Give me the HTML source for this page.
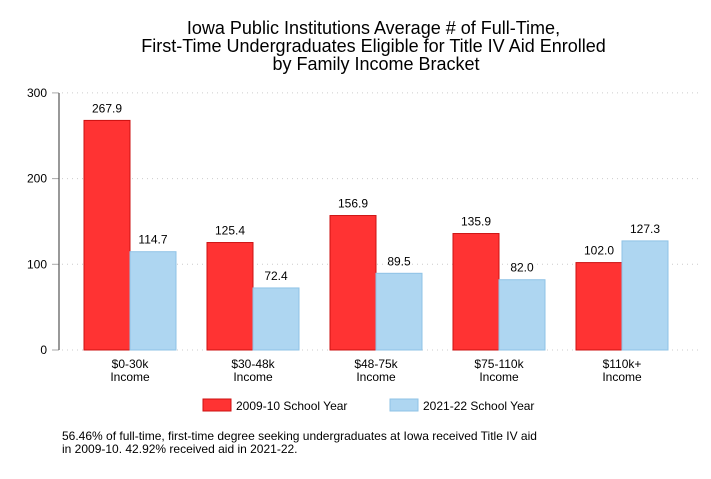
<!DOCTYPE html>
<html><head><meta charset="utf-8"><style>
body{margin:0;background:#fff;font-family:"Liberation Sans",Arial,sans-serif}
svg text{font-family:"Liberation Sans",Arial,sans-serif}
</style></head><body>
<svg id="chart" width="711" height="474" xmlns="http://www.w3.org/2000/svg">
<rect width="711" height="474" fill="#fff"/>
<text font-size="18" text-anchor="middle" fill="#000">
<tspan x="376" y="34">Iowa Public Institutions Average # of Full-Time,</tspan>
<tspan x="376" y="52">First-Time Undergraduates Eligible for Title IV Aid Enrolled</tspan>
<tspan x="376" y="70">by Family Income Bracket</tspan></text>
<g id="grid"></g><g id="bars"></g><g id="labels"></g>
<line x1="59" y1="93" x2="59" y2="350" stroke="#555" stroke-width="1.2"/>
<g>
<rect x="203" y="399" width="28" height="12" fill="#ff3333" stroke="#cc1111"/>
<text x="236" y="410" font-size="12">2009-10 School Year</text>
<rect x="390" y="399" width="28" height="12" fill="#aed6f1" stroke="#8fc3e6"/>
<text x="423" y="410" font-size="12">2021-22 School Year</text>
</g>
<text font-size="12" fill="#000">
<tspan x="62" y="440">56.46% of full-time, first-time degree seeking undergraduates at Iowa received Title IV aid</tspan>
<tspan x="62" y="453">in 2009-10. 42.92% received aid in 2021-22.</tspan></text>
</svg>
<script>
const categories=["$0-30k","$30-48k","$48-75k","$75-110k","$110k+"];
const series2009=[267.9,125.4,156.9,135.9,102.0];
const series2021=[114.7,72.4,89.5,82.0,127.3];
const yTicks=[0,100,200,300];
const NS="http://www.w3.org/2000/svg";
const y=v=>350-v*0.857;
const xc=i=>130+i*123;
const bw=46;
function mk(tag,attrs,parent){const e=document.createElementNS(NS,tag);for(const k in attrs)e.setAttribute(k,attrs[k]);document.getElementById(parent).appendChild(e);return e;}
yTicks.forEach(t=>{
 const g=mk('line',{x1:62,x2:700,y1:y(t),y2:y(t),stroke:'#ccc','stroke-dasharray':'1,4'},'grid');
 
 
 const tk=mk('line',{x1:52,x2:59,y1:y(t),y2:y(t),stroke:'#aaa'},'grid');
 
 
 const tl=mk('text',{x:47,y:y(t)+4,'font-size':12,'text-anchor':'end'},'labels');
 tl.textContent=t;
 
 
});
categories.forEach((c,i)=>{
 [[series2009[i],-bw,'#ff3333','#cc1111'],[series2021[i],0,'#aed6f1','#8fc3e6']].forEach(([v,off,f,s],j)=>{
  const r=mk('rect',{x:xc(i)+off,y:y(v),width:bw,height:350-y(v),fill:f,stroke:s},'bars');
  
  
  const l=mk('text',{x:xc(i)+off+bw/2,y:y(v)-8,'font-size':12,'text-anchor':'middle'},'labels');
  l.textContent=v.toFixed(1);
  
  
 });
 const cl=mk('text',{x:xc(i),y:368,'font-size':12,'text-anchor':'middle'},'labels');
 cl.innerHTML='<tspan x="'+xc(i)+'" y="368">'+c+'</tspan><tspan x="'+xc(i)+'" y="381">Income</tspan>';
 
 
});
</script>
</body></html>
